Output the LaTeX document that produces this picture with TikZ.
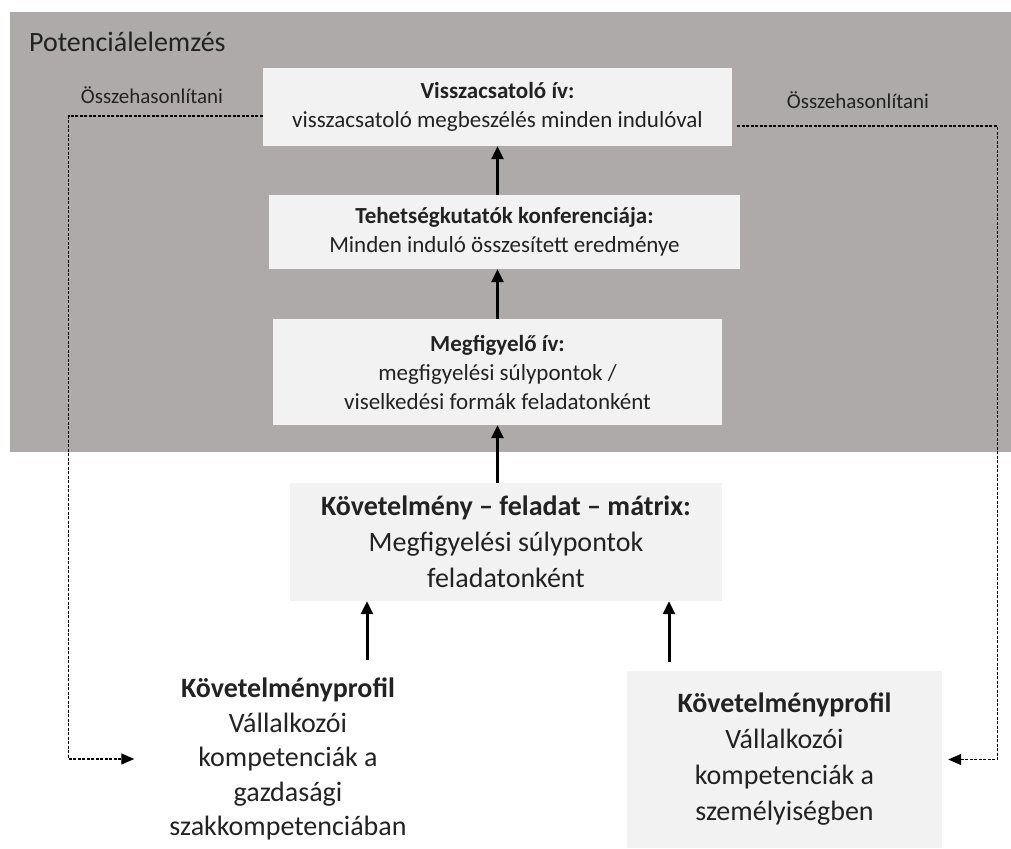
\documentclass[tikz,border=0pt]{standalone}
\usepackage{fontspec}
\setmainfont{Carlito}
\usepackage{xcolor}
\usepackage{tikz}
\usetikzlibrary{arrows.meta}
\usetikzlibrary{positioning}
\definecolor{bggray}{HTML}{AEAAAA}
\definecolor{boxfill}{HTML}{F2F2F2}
\definecolor{txt}{HTML}{222222}

\begin{document}
\begin{tikzpicture}[x=1pt,y=-1pt]
    \useasboundingbox (0,0) rectangle (1011,848);
    \fill[bggray] (10,12) rectangle (1011,452);
    \node[anchor=west,inner sep=0pt,text=txt,font=\fontsize{28}{34}\selectfont] (title) at (29,42) {Potenciálelemzés};
    \begin{scope}[every node/.style={fill=boxfill,text=txt,align=center,inner sep=0pt,font=\fontsize{23}{29}\selectfont}]
    \node[minimum width=469pt,minimum height=78pt] (visz) at (497.5,107) {\textbf{Visszacsatoló ív:}\\visszacsatoló megbeszélés minden indulóval};
    \node[minimum width=471pt,minimum height=74pt] (konf) at (504.5,232) {\textbf{Tehetségkutatók konferenciája:}\\Minden induló összesített eredménye};
    \node[minimum width=449pt,minimum height=106pt] (megf) at (497.5,372) {\textbf{Megfigyelő ív:}\\megfigyelési súlypontok /\\viselkedési formák feladatonként};
    \end{scope}
    \begin{scope}[every node/.style={text=txt,align=center,inner sep=0pt,font=\fontsize{28}{36}\selectfont}]
    \node[fill=boxfill,minimum width=432pt,minimum height=118pt] (matrix) at (506,542) {\textbf{Követelmény – feladat – mátrix:}\\Megfigyelési súlypontok\\feladatonként};
    \node[font=\fontsize{28}{34.5}\selectfont] (profA) at (288,759) {\textbf{Követelményprofil}\\Vállalkozói\\kompetenciák a\\gazdasági\\szakkompetenciában};
    \node[fill=boxfill,minimum width=315pt,minimum height=177pt] (profB) at (784.5,759.5) {\textbf{Követelményprofil}\\Vállalkozói\\kompetenciák a\\személyiségben};
    \end{scope}
    \begin{scope}[every node/.style={text=txt,inner sep=0pt,font=\fontsize{21}{25}\selectfont}]
    \node (cmpL) at (152,95) {Összehasonlítani};
    \node (cmpR) at (858,100) {Összehasonlítani};
    \end{scope}
    \coordinate (arrL) at (367,660);
    \coordinate (arrR) at (669,662);
    \begin{scope}[every edge/.style={draw=black,line width=3pt,-{Triangle[length=13pt,width=12pt]}}]
    \path (konf.north -| visz.south) edge (visz.south);
    \path (megf.north) edge (konf.south -| megf.north);
    \path (matrix.north -| megf.south) edge (megf.south);
    \path (arrL) edge (matrix.south -| arrL);
    \path (arrR) edge (matrix.south -| arrR);
    \end{scope}
    \begin{scope}[line width=1.2pt,dash pattern=on 3pt off 1.5pt,-{Triangle[length=13pt,width=11pt]}]
    \draw ([yshift=-9pt]visz.west) -- ++(-194,0) |- ([xshift=-35pt]profA.west);
    \draw ([xshift=5pt,yshift=-19pt]visz.east) -- ++(260,0) |- ([xshift=6pt]profB.east);
    \end{scope}
\end{tikzpicture}
\end{document}
